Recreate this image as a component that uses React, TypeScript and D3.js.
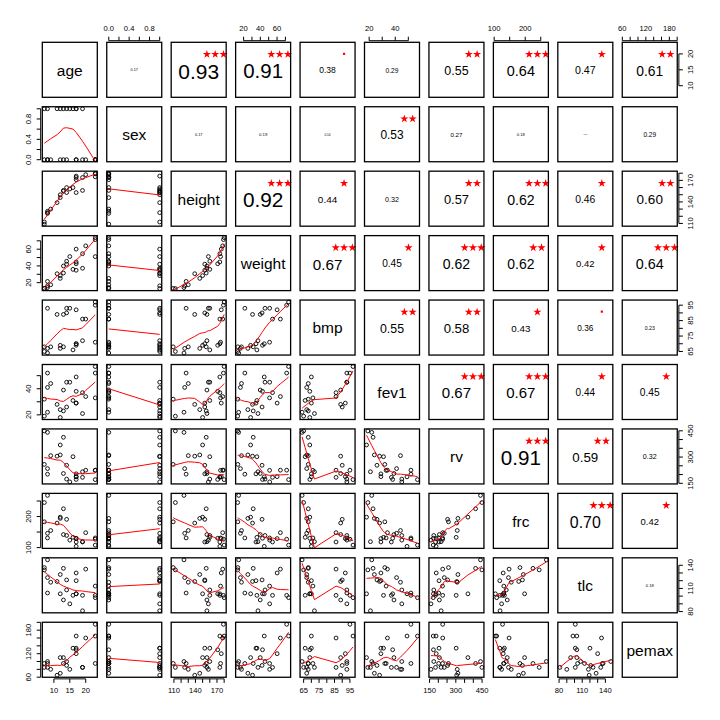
import React, { useEffect, useRef } from 'react';
import * as d3 from 'd3';

// cystfibr data (25 patients)
const varNames = ['age', 'sex', 'height', 'weight', 'bmp', 'fev1', 'rv', 'frc', 'tlc', 'pemax'];

const age = [7, 7, 8, 8, 8, 9, 11, 12, 12, 13, 13, 14, 14, 15, 16, 17, 17, 17, 17, 19, 19, 20, 23, 23, 23];
const sex = [0, 1, 0, 1, 0, 0, 1, 1, 0, 1, 0, 1, 0, 1, 1, 1, 0, 1, 0, 1, 0, 0, 0, 0, 0];
const height = [109, 112, 124, 125, 127, 130, 139, 150, 146, 155, 156, 153, 160, 158, 160, 153, 174, 176, 171, 156, 174, 178, 180, 175, 179];
const weight = [13.1, 12.9, 14.1, 16.2, 21.5, 17.5, 30.7, 28.4, 25.1, 31.5, 39.9, 42.1, 45.6, 51.2, 35.9, 34.8, 44.7, 60.1, 42.6, 37.2, 54.6, 64.0, 73.8, 51.1, 71.5];
const bmp = [68, 65, 64, 67, 93, 68, 89, 69, 67, 68, 89, 90, 93, 93, 66, 70, 70, 92, 69, 72, 86, 86, 97, 71, 95];
const fev1 = [32, 19, 22, 41, 52, 44, 28, 18, 24, 23, 39, 26, 45, 45, 31, 29, 49, 29, 38, 21, 37, 34, 57, 33, 52];
const rv = [258, 449, 441, 234, 202, 308, 305, 369, 312, 413, 206, 253, 174, 158, 302, 204, 187, 188, 172, 216, 184, 225, 171, 224, 225];
const frc = [183, 245, 268, 146, 131, 155, 179, 198, 194, 225, 142, 191, 139, 124, 133, 118, 104, 129, 130, 119, 118, 148, 108, 131, 127];
const tlc = [137, 134, 147, 124, 104, 118, 119, 103, 128, 136, 95, 121, 108, 90, 101, 120, 103, 130, 103, 81, 101, 135, 98, 113, 101];
const pemax = [95, 85, 100, 85, 95, 80, 65, 110, 70, 95, 110, 90, 100, 80, 134, 134, 165, 120, 130, 85, 85, 160, 165, 95, 195];

const columns = [age, sex, height, weight, bmp, fev1, rv, frc, tlc, pemax];

// axis ticks and the labels R kept after dropping overlaps
const tickValues = [
  [10, 15, 20],
  [0, 0.2, 0.4, 0.6, 0.8, 1.0],
  [110, 120, 130, 140, 150, 160, 170, 180],
  [20, 30, 40, 50, 60, 70],
  [65, 70, 75, 80, 85, 90, 95],
  [20, 30, 40, 50],
  [150, 200, 250, 300, 350, 400, 450],
  [100, 150, 200, 250],
  [80, 90, 100, 110, 120, 130, 140],
  [60, 80, 100, 120, 140, 160, 180, 200],
];
const tickLabels = [
  ['10', '15', '20'],
  ['0.0', '0.4', '0.8'],
  ['110', '140', '170'],
  ['20', '40', '60'],
  ['65', '75', '85', '95'],
  ['20', '40'],
  ['150', '300', '450'],
  ['100', '200'],
  ['80', '110', '140'],
  ['60', '120', '180'],
];

const X0 = 42.3, STEP = 64.44, SIZE = 55;
const FONT = 'Liberation Sans, Arial, sans-serif';

// R's clowess
function lowess(xIn: number[], yIn: number[], f = 2 / 3, iter = 3) {
  const n = xIn.length;
  const order = d3.range(n).sort((a, b) => xIn[a] - xIn[b]);
  const x = order.map(i => xIn[i]);
  const y = order.map(i => yIn[i]);
  const ys = new Array(n).fill(0);
  const rw = new Array(n).fill(1);
  const res = new Array(n).fill(0);
  const w = new Array(n).fill(0);
  const ns = Math.max(2, Math.min(n, Math.floor(f * n + 1e-7)));
  const range = x[n - 1] - x[0];
  const delta = 0.01 * range;

  const lowest = (xs: number, nleft: number, nright: number, userw: boolean) => {
    const h = Math.max(xs - x[nleft], x[nright] - xs);
    const h9 = 0.999 * h, h1 = 0.001 * h;
    let a = 0;
    let j = nleft;
    while (j < n) {
      w[j] = 0;
      const r = Math.abs(x[j] - xs);
      if (r <= h9) {
        if (r <= h1) w[j] = 1;
        else w[j] = Math.pow(1 - Math.pow(r / h, 3), 3);
        if (userw) w[j] *= rw[j];
        a += w[j];
      } else if (x[j] > xs) break;
      j++;
    }
    const nrt = j - 1;
    if (a <= 0) return null;
    for (j = nleft; j <= nrt; j++) w[j] /= a;
    if (h > 0) {
      a = 0;
      for (j = nleft; j <= nrt; j++) a += w[j] * x[j];
      let b = xs - a;
      let c = 0;
      for (j = nleft; j <= nrt; j++) c += w[j] * (x[j] - a) * (x[j] - a);
      if (Math.sqrt(c) > 0.001 * range) {
        b /= c;
        for (j = nleft; j <= nrt; j++) w[j] *= b * (x[j] - a) + 1;
      }
    }
    let s = 0;
    for (j = nleft; j <= nrt; j++) s += w[j] * y[j];
    return s;
  };

  for (let iiter = 1; iiter <= iter + 1; iiter++) {
    let nleft = 0, nright = ns - 1, last = -1, i = 0;
    for (;;) {
      if (nright < n - 1) {
        const d1 = x[i] - x[nleft], d2 = x[nright + 1] - x[i];
        if (d1 > d2) { nleft++; nright++; continue; }
      }
      const v = lowest(x[i], nleft, nright, iiter > 1);
      ys[i] = v === null ? y[i] : v;
      if (last < i - 1) {
        const denom = x[i] - x[last];
        for (let j = last + 1; j < i; j++) {
          const alpha = (x[j] - x[last]) / denom;
          ys[j] = alpha * ys[i] + (1 - alpha) * ys[last];
        }
      }
      last = i;
      const cut = x[last] + delta;
      for (i = last + 1; i < n; i++) {
        if (x[i] > cut) break;
        if (x[i] === x[last]) { ys[i] = ys[last]; last = i; }
      }
      i = Math.max(last + 1, i - 1);
      if (last >= n - 1) break;
    }
    for (let k = 0; k < n; k++) res[k] = y[k] - ys[k];
    const sc = d3.sum(res, r => Math.abs(r)) / n;
    if (iiter > iter) break;
    const sorted = res.map(r => Math.abs(r)).sort((a, b) => a - b);
    const m1 = Math.floor(n / 2);
    const cmad = n % 2 === 0 ? 3 * (sorted[m1] + sorted[n - m1 - 1]) : 6 * sorted[m1];
    if (cmad < 1e-7 * sc) break;
    const c9 = 0.999 * cmad, c1 = 0.001 * cmad;
    for (let k = 0; k < n; k++) {
      const r = Math.abs(res[k]);
      rw[k] = r <= c1 ? 1 : r <= c9 ? Math.pow(1 - Math.pow(r / cmad, 2), 2) : 0;
    }
  }
  return x.map((xv, k) => [xv, ys[k]] as [number, number]);
}

function pearson(a: number[], b: number[]) {
  const ma = d3.mean(a)!, mb = d3.mean(b)!;
  let sab = 0, saa = 0, sbb = 0;
  for (let i = 0; i < a.length; i++) {
    sab += (a[i] - ma) * (b[i] - mb);
    saa += (a[i] - ma) ** 2;
    sbb += (b[i] - mb) ** 2;
  }
  return sab / Math.sqrt(saa * sbb);
}

function gammaln(xx: number) {
  const cof = [76.18009172947146, -86.50532032941677, 24.01409824083091, -1.231739572450155, 0.1208650973866179e-2, -0.5395239384953e-5];
  let y = xx;
  let tmp = xx + 5.5;
  tmp -= (xx + 0.5) * Math.log(tmp);
  let ser = 1.000000000190015;
  for (let j = 0; j < 6; j++) ser += cof[j] / ++y;
  return -tmp + Math.log(2.5066282746310005 * ser / xx);
}

function betacf(a: number, b: number, x: number) {
  const qab = a + b, qap = a + 1, qam = a - 1;
  let c = 1, d = 1 - qab * x / qap;
  if (Math.abs(d) < 1e-30) d = 1e-30;
  d = 1 / d;
  let h = d;
  for (let m = 1; m <= 200; m++) {
    const m2 = 2 * m;
    let aa = m * (b - m) * x / ((qam + m2) * (a + m2));
    d = 1 + aa * d; if (Math.abs(d) < 1e-30) d = 1e-30;
    c = 1 + aa / c; if (Math.abs(c) < 1e-30) c = 1e-30;
    d = 1 / d; h *= d * c;
    aa = -(a + m) * (qab + m) * x / ((a + m2) * (qap + m2));
    d = 1 + aa * d; if (Math.abs(d) < 1e-30) d = 1e-30;
    c = 1 + aa / c; if (Math.abs(c) < 1e-30) c = 1e-30;
    d = 1 / d;
    const del = d * c;
    h *= del;
    if (Math.abs(del - 1) < 3e-12) break;
  }
  return h;
}

function betai(a: number, b: number, x: number) {
  if (x <= 0) return 0;
  if (x >= 1) return 1;
  const bt = Math.exp(gammaln(a + b) - gammaln(a) - gammaln(b) + a * Math.log(x) + b * Math.log(1 - x));
  if (x < (a + 1) / (a + b + 2)) return bt * betacf(a, b, x) / a;
  return 1 - bt * betacf(b, a, 1 - x) / b;
}

function corPValue(r: number, n: number) {
  const df = n - 2;
  const t2 = r * r * df / (1 - r * r);
  return betai(df / 2, 0.5, df / (df + t2));
}

function signif(p: number) {
  if (p <= 0.001) return '***';
  if (p <= 0.01) return '**';
  if (p <= 0.05) return '*';
  if (p <= 0.1) return '.';
  return '';
}

// approximate Arial advance widths (em)
function textWidthEm(s: string) {
  let w = 0;
  for (const ch of s) w += ch === '.' ? 0.278 : 0.556;
  return w;
}

const App = () => {
  const svgRef = useRef<SVGSVGElement>(null);

  useEffect(() => {
    const svg = d3.select(svgRef.current);
    svg.selectAll('*').remove();
    const nv = varNames.length;

    const scaleFor = (v: number, lo: number, hi: number) => {
      const [mn, mx] = d3.extent(columns[v]) as [number, number];
      const pad = 0.04 * (mx - mn);
      return d3.scaleLinear().domain([mn - pad, mx + pad]).range([lo, hi]);
    };

    const defs = svg.append('defs');

    for (let i = 0; i < nv; i++) {
      for (let j = 0; j < nv; j++) {
        const left = X0 + j * STEP, top = X0 + i * STEP;
        const g = svg.append('g');
        const cx = left + SIZE / 2, cy = top + SIZE / 2;

        if (i === j) {
          g.append('text')
            .attr('x', cx).attr('y', cy + 15.5 * 0.38)
            .attr('text-anchor', 'middle')
            .attr('font-family', FONT).attr('font-size', 15.5)
            .text(varNames[i]);
        } else if (j > i) {
          const r = Math.abs(pearson(columns[j], columns[i]));
          const txt = r < 0.1 ? r.toFixed(3) : r.toFixed(2);
          const base = (0.8 * SIZE) / textWidthEm(txt);
          // very weak correlations still leave a tiny visible mark
          const fs = Math.max(base * r, 1.5);
          g.append('text')
            .attr('x', cx).attr('y', cy + fs * 0.42)
            .attr('text-anchor', 'middle')
            .attr('font-family', FONT).attr('font-size', fs)
            .text(txt);
          const s = signif(corPValue(r, columns[i].length));
          const sx = left + 0.8 * SIZE, sy = top + 0.21 * SIZE;
          if (s === '.') {
            g.append('rect').attr('x', sx - 1.1).attr('y', sy - 1.1)
              .attr('width', 2.2).attr('height', 2.2).attr('fill', '#FF0000');
          } else {
            const k = s.length;
            for (let q = 0; q < k; q++) {
              g.append('path')
                .attr('d', d3.symbol(d3.symbolStar, 21)()!)
                .attr('transform', `translate(${sx + (q - (k - 1) / 2) * 8.3},${sy + 0.5})`)
                .attr('fill', '#FF0000');
            }
          }
        } else {
          const xs = scaleFor(j, left, left + SIZE);
          const ysc = scaleFor(i, top + SIZE, top);
          const id = `clip-${i}-${j}`;
          defs.append('clipPath').attr('id', id)
            .append('rect').attr('x', left).attr('y', top).attr('width', SIZE).attr('height', SIZE);
          const xv = columns[j], yv = columns[i];
          g.selectAll('circle')
            .data(xv.map((d, k) => [d, yv[k]]))
            .enter().append('circle')
            .attr('cx', d => xs(d[0])).attr('cy', d => ysc(d[1]))
            .attr('r', 1.9)
            .attr('fill', 'none').attr('stroke', 'black').attr('stroke-width', 0.9);
          const fit = lowess(xv, yv);
          g.append('path')
            .attr('clip-path', `url(#${id})`)
            .attr('d', d3.line<[number, number]>().x(d => xs(d[0])).y(d => ysc(d[1]))(fit)!)
            .attr('fill', 'none').attr('stroke', '#FF0000').attr('stroke-width', 1);
        }

        g.append('rect')
          .attr('x', left).attr('y', top).attr('width', SIZE).attr('height', SIZE)
          .attr('fill', 'none').attr('stroke', 'black').attr('stroke-width', 1.3);
      }
    }

    // axes
    const axisG = svg.append('g').attr('font-family', FONT).attr('font-size', 7.6);
    const GAP = 1.6, TICK = 4, LAB = 13.5;
    for (let k = 0; k < nv; k++) {
      const lo = X0 + k * STEP;
      const ticks = tickValues[k];
      const labels = tickLabels[k];
      const fmt = (v: number) => (k === 1 ? v.toFixed(1) : String(v));
      // horizontal axes (top on odd columns, bottom on even columns)
      {
        const sc = scaleFor(k, lo, lo + SIZE);
        const top = k % 2 === 1;
        const yLine = top ? X0 - GAP : X0 + (nv - 1) * STEP + SIZE + GAP;
        const dir = top ? -1 : 1;
        axisG.append('line')
          .attr('x1', sc(ticks[0])).attr('x2', sc(ticks[ticks.length - 1]))
          .attr('y1', yLine).attr('y2', yLine).attr('stroke', 'black');
        ticks.forEach(t => {
          axisG.append('line').attr('x1', sc(t)).attr('x2', sc(t))
            .attr('y1', yLine).attr('y2', yLine + dir * TICK).attr('stroke', 'black');
        });
        ticks.filter(t => labels.includes(fmt(t))).forEach(t => {
          axisG.append('text')
            .attr('x', sc(t)).attr('y', yLine + dir * (LAB - GAP))
            .attr('text-anchor', 'middle').attr('dominant-baseline', 'central')
            .text(fmt(t));
        });
      }
      // vertical axes (left on odd rows, right on even rows)
      {
        const sc = scaleFor(k, lo + SIZE, lo);
        const left = k % 2 === 1;
        const xLine = left ? X0 - GAP : X0 + (nv - 1) * STEP + SIZE + GAP;
        const dir = left ? -1 : 1;
        axisG.append('line')
          .attr('y1', sc(ticks[0])).attr('y2', sc(ticks[ticks.length - 1]))
          .attr('x1', xLine).attr('x2', xLine).attr('stroke', 'black');
        ticks.forEach(t => {
          axisG.append('line').attr('y1', sc(t)).attr('y2', sc(t))
            .attr('x1', xLine).attr('x2', xLine + dir * TICK).attr('stroke', 'black');
        });
        ticks.filter(t => labels.includes(fmt(t))).forEach(t => {
          const tx = xLine + dir * (LAB - GAP);
          axisG.append('text')
            .attr('transform', `translate(${tx},${sc(t)}) rotate(-90)`)
            .attr('text-anchor', 'middle').attr('dominant-baseline', 'central')
            .text(fmt(t));
        });
      }
    }
  }, []);

  return (
    <svg ref={svgRef} width={720} height={720}
      style={{ position: 'absolute', left: 0, top: 0, background: 'white', display: 'block' }} />
  );
};

export default App;
